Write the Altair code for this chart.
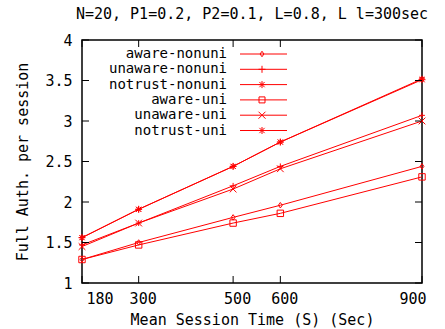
import altair as alt
import pandas as pd

# Mean session time (sec)
session_time = [180, 300, 500, 600, 900]

# Full authentications per session, one list per scheme
series_names = [
    "aware-nonuni",
    "unaware-nonuni",
    "notrust-nonuni",
    "aware-uni",
    "unaware-uni",
    "notrust-uni",
]
aware_nonuni = [1.29, 1.50, 1.81, 1.96, 2.44]
unaware_nonuni = [1.47, 1.74, 2.20, 2.44, 3.07]
notrust_nonuni = [1.56, 1.91, 2.44, 2.74, 3.52]
aware_uni = [1.29, 1.47, 1.74, 1.86, 2.31]
unaware_uni = [1.45, 1.74, 2.16, 2.41, 3.00]
notrust_uni = [1.56, 1.91, 2.44, 2.74, 3.51]

x_ticks = [180, 300, 500, 600, 900]
y_ticks = [1, 1.5, 2, 2.5, 3, 3.5, 4]

values = [aware_nonuni, unaware_nonuni, notrust_nonuni,
          aware_uni, unaware_uni, notrust_uni]

rows = []
for name, ys in zip(series_names, values):
    for t, v in zip(session_time, ys):
        rows.append({"time": t, "auth": v, "series": name})
df = pd.DataFrame(rows)

# gnuplot-style point glyphs
PLUS = "M-1,0L1,0M0,-1L0,1"
CROSS = "M-1,-1L1,1M-1,1L1,-1"
STAR = "M-1,0L1,0M0,-1L0,1M-0.75,-0.75L0.75,0.75M-0.75,0.75L0.75,-0.75"
DIAMOND = "M0,-1L0.7,0L0,1L-0.7,0Z"
SQUARE = "M-1,-1L1,-1L1,1L-1,1Z"
glyphs = [DIAMOND, PLUS, STAR, SQUARE, CROSS, STAR]
glyph_sizes = [30, 49, 49, 36, 49, 49]

RED = "#ff0000"
FONT = "DejaVu Sans Mono"
FS = 15
KEY_FS = 14
W, H = 340, 243
TICK = 7

xscale = alt.Scale(domain=[180, 900], zero=False, nice=False)
yscale = alt.Scale(domain=[1, 4], zero=False, nice=False)

x_enc = alt.X(
    "time:Q", scale=xscale,
    axis=alt.Axis(values=x_ticks, title="Mean Session Time (S) (Sec)",
                  ticks=False, domain=False, grid=False, labelPadding=8,
                  labelOffset=4, titlePadding=6),
)
y_enc = alt.Y(
    "auth:Q", scale=yscale,
    axis=alt.Axis(values=y_ticks, format="~g", title="Full Auth. per session",
                  ticks=False, domain=False, grid=False, labelPadding=10,
                  titlePadding=14),
)

lines = alt.Chart(df).mark_line(color=RED, strokeWidth=1).encode(
    x=x_enc, y=y_enc, detail="series:N"
)

points = alt.Chart(df).mark_point(
    color=RED, filled=False, strokeWidth=1, opacity=1
).encode(
    x="time:Q",
    y="auth:Q",
    shape=alt.Shape("series:N", scale=alt.Scale(domain=series_names, range=glyphs),
                    legend=None),
    size=alt.Size("series:N", scale=alt.Scale(domain=series_names, range=glyph_sizes),
                  legend=None),
)

# inward tick marks on all four sides
xt = pd.DataFrame({"time": x_ticks})
yt = pd.DataFrame({"auth": y_ticks})
tick_color = "black"
bottom_ticks = alt.Chart(xt).mark_rule(color=tick_color).encode(
    x="time:Q", y=alt.value(H), y2=alt.value(H - TICK))
top_ticks = alt.Chart(xt).mark_rule(color=tick_color).encode(
    x="time:Q", y=alt.value(0), y2=alt.value(TICK))
left_ticks = alt.Chart(yt).mark_rule(color=tick_color).encode(
    y="auth:Q", x=alt.value(0), x2=alt.value(TICK))
right_ticks = alt.Chart(yt).mark_rule(color=tick_color).encode(
    y="auth:Q", x=alt.value(W), x2=alt.value(W - TICK))

# key in the upper left: label, sample line, glyph
key_layers = []
for i, (name, g, s) in enumerate(zip(series_names, glyphs, glyph_sizes)):
    ry = 14 + i * 15.3
    kd = pd.DataFrame({"label": [name]})
    key_layers.append(
        alt.Chart(kd).mark_text(align="right", baseline="middle", font=FONT,
                                fontSize=KEY_FS, color="black").encode(
            text="label:N", x=alt.value(145), y=alt.value(ry)))
    key_layers.append(
        alt.Chart(kd).mark_rule(color=RED, strokeWidth=1).encode(
            x=alt.value(158), x2=alt.value(205), y=alt.value(ry)))
    key_layers.append(
        alt.Chart(kd).mark_point(color=RED, filled=False, strokeWidth=1,
                                 opacity=1, shape=g, size=s).encode(
            x=alt.value(180), y=alt.value(ry)))

chart = alt.layer(
    lines, points, bottom_ticks, top_ticks, left_ticks, right_ticks, *key_layers
).properties(
    width=W,
    height=H,
    background="white",
    title=alt.TitleParams("N=20, P1=0.2, P2=0.1, L=0.8, L l=300sec",
                          font=FONT, fontSize=FS, fontWeight="normal",
                          anchor="middle", offset=11, color="black"),
    autosize=alt.AutoSizeParams(type="none"),
    padding={"left": 82, "top": 40, "right": 23, "bottom": 46},
).configure_view(
    stroke="black", strokeWidth=1.5
).configure_axis(
    labelFont=FONT, labelFontSize=FS, labelColor="black",
    titleFont=FONT, titleFontSize=FS, titleFontWeight="normal", titleColor="black",
)

chart.save("out.html", embed_options={"renderer": "svg", "actions": False})
